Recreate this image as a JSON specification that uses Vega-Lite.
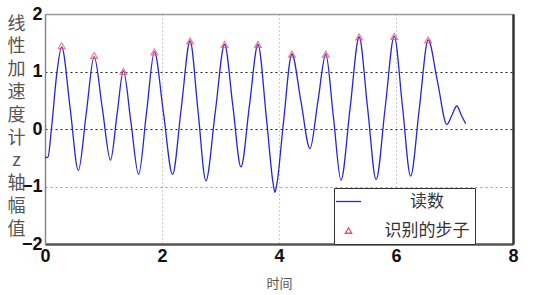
{
  "$schema": "https://vega.github.io/schema/vega-lite/v6.json",
  "autosize": "none",
  "width": 468,
  "height": 230,
  "padding": {"left": 45, "top": 14, "right": 22, "bottom": 51},
  "background": "white",
  "config": {"view": {"stroke": "#888", "strokeWidth": 1}},
  "datasets": {
    "readings": [
      {"t": 0, "v": -0.5, "series": "读数"},
      {"t": 0.05, "v": -0.49, "series": "读数"},
      {"t": 0.11, "v": 0.0, "series": "读数"},
      {"t": 0.2, "v": 0.95, "series": "读数"},
      {"t": 0.285, "v": 1.43, "series": "读数"},
      {"t": 0.43, "v": 0.36, "series": "读数"},
      {"t": 0.57, "v": -0.72, "series": "读数"},
      {"t": 0.705, "v": 0.27, "series": "读数"},
      {"t": 0.84, "v": 1.26, "series": "读数"},
      {"t": 0.98, "v": 0.36, "series": "读数"},
      {"t": 1.12, "v": -0.54, "series": "读数"},
      {"t": 1.23, "v": 0.24, "series": "读数"},
      {"t": 1.34, "v": 1.01, "series": "读数"},
      {"t": 1.47, "v": 0.11, "series": "读数"},
      {"t": 1.6, "v": -0.79, "series": "读数"},
      {"t": 1.735, "v": 0.28, "series": "读数"},
      {"t": 1.87, "v": 1.34, "series": "读数"},
      {"t": 2.025, "v": 0.28, "series": "读数"},
      {"t": 2.18, "v": -0.79, "series": "读数"},
      {"t": 2.33, "v": 0.37, "series": "读数"},
      {"t": 2.48, "v": 1.53, "series": "读数"},
      {"t": 2.615, "v": 0.32, "series": "读数"},
      {"t": 2.75, "v": -0.9, "series": "读数"},
      {"t": 2.91, "v": 0.29, "series": "读数"},
      {"t": 3.07, "v": 1.47, "series": "读数"},
      {"t": 3.21, "v": 0.41, "series": "读数"},
      {"t": 3.35, "v": -0.66, "series": "读数"},
      {"t": 3.495, "v": 0.41, "series": "读数"},
      {"t": 3.64, "v": 1.47, "series": "读数"},
      {"t": 3.785, "v": 0.19, "series": "读数"},
      {"t": 3.9, "v": -0.95, "series": "读数"},
      {"t": 3.93, "v": -1.1, "series": "读数"},
      {"t": 3.96, "v": -0.98, "series": "读数"},
      {"t": 4.075, "v": 0.1, "series": "读数"},
      {"t": 4.22, "v": 1.3, "series": "读数"},
      {"t": 4.375, "v": 0.48, "series": "读数"},
      {"t": 4.53, "v": -0.34, "series": "读数"},
      {"t": 4.665, "v": 0.48, "series": "读数"},
      {"t": 4.8, "v": 1.3, "series": "读数"},
      {"t": 4.93, "v": 0.21, "series": "读数"},
      {"t": 5.06, "v": -0.89, "series": "读数"},
      {"t": 5.215, "v": 0.36, "series": "读数"},
      {"t": 5.37, "v": 1.6, "series": "读数"},
      {"t": 5.515, "v": 0.36, "series": "读数"},
      {"t": 5.66, "v": -0.88, "series": "读数"},
      {"t": 5.815, "v": 0.37, "series": "读数"},
      {"t": 5.97, "v": 1.61, "series": "读数"},
      {"t": 6.11, "v": 0.4, "series": "读数"},
      {"t": 6.25, "v": -0.82, "series": "读数"},
      {"t": 6.4, "v": 0.37, "series": "读数"},
      {"t": 6.55, "v": 1.55, "series": "读数"},
      {"t": 6.71, "v": 0.82, "series": "读数"},
      {"t": 6.87, "v": 0.08, "series": "读数"},
      {"t": 6.955, "v": 0.24, "series": "读数"},
      {"t": 7.04, "v": 0.4, "series": "读数"},
      {"t": 7.115, "v": 0.245, "series": "读数"},
      {"t": 7.19, "v": 0.09, "series": "读数"}
    ],
    "steps": [
      {"t": 0.285, "v": 1.45, "series": "识别的步子"},
      {"t": 0.84, "v": 1.28, "series": "识别的步子"},
      {"t": 1.34, "v": 1.0, "series": "识别的步子"},
      {"t": 1.87, "v": 1.34, "series": "识别的步子"},
      {"t": 2.48, "v": 1.53, "series": "识别的步子"},
      {"t": 3.07, "v": 1.47, "series": "识别的步子"},
      {"t": 3.64, "v": 1.47, "series": "识别的步子"},
      {"t": 4.22, "v": 1.3, "series": "识别的步子"},
      {"t": 4.8, "v": 1.3, "series": "识别的步子"},
      {"t": 5.37, "v": 1.6, "series": "识别的步子"},
      {"t": 5.97, "v": 1.61, "series": "识别的步子"},
      {"t": 6.55, "v": 1.55, "series": "识别的步子"}
    ]
  },
  "layer": [
    {
      "data": {"name": "readings"},
      "mark": {"type": "line", "interpolate": "monotone", "strokeWidth": 1.3},
      "encoding": {
        "x": {
          "field": "t", "type": "quantitative",
          "scale": {"domain": [0, 8], "nice": false, "zero": false},
          "axis": {
            "values": [0, 2, 4, 6, 8],
            "title": "时间",
            "titleFont": "Noto Sans CJK SC", "titleFontSize": 13, "titleFontWeight": "normal", "titleColor": "#555",
            "titleBaseline": "middle", "titleY": 39,
            "labelFont": "Liberation Sans", "labelFontSize": 18, "labelFontWeight": "bold", "labelColor": "#111",
            "labelPadding": 3, "labelFlush": false, "labelOverlap": false,
            "tickSize": 0,
            "domainColor": "#555", "domainWidth": 2.5,
            "grid": true, "gridDash": [1, 3], "gridWidth": 1,
            "gridColor": {"condition": {"test": "datum.value === 0 || datum.value === 8", "value": "transparent"}, "value": "#999"}
          }
        },
        "y": {
          "field": "v", "type": "quantitative",
          "scale": {"domain": [-2, 2], "nice": false, "zero": false},
          "axis": {
            "values": [-2, -1, 0, 1, 2],
            "title": ["线", "性", "加", "速", "度", "计", "z", "轴", "幅", "值"],
            "titleFont": "Noto Sans CJK SC", "titleFontSize": 18, "titleFontWeight": "normal", "titleColor": "#555",
            "titleAngle": 0, "titleAlign": "center", "titleBaseline": "top",
            "titleLineHeight": 22.8, "titleX": -29, "titleY": 1,
            "labelFont": "Liberation Sans", "labelFontSize": 18, "labelFontWeight": "bold", "labelColor": "#111",
            "labelPadding": 3, "labelFlush": false, "labelOverlap": false,
            "tickSize": 0,
            "domainColor": "#888", "domainWidth": 1.5,
            "grid": true, "gridDash": [2, 3], "gridWidth": 1.2,
            "gridColor": {"condition": [
              {"test": "datum.value === 2 || datum.value === -2", "value": "transparent"},
              {"test": "datum.value === -1", "value": "#999"}
            ], "value": "#222"}
          }
        },
        "color": {
          "field": "series", "type": "nominal",
          "scale": {"domain": ["读数", "识别的步子"], "range": ["#2626d2", "#f04a6a"]},
          "legend": {
            "orient": "none", "legendX": 289, "legendY": 174,
            "title": null,
            "fillColor": "white", "strokeColor": "#333",
            "padding": 5, "rowPadding": 11,
            "symbolSize": 625, "symbolType": "stroke", "symbolStrokeWidth": 1.3, "symbolOffset": 1,
            "labelOffset": 70, "labelAlign": "center", "labelLimit": 400,
            "labelFont": "Noto Sans CJK SC", "labelFontSize": 17, "labelColor": "#333",
            "encode": {
              "symbols": {
                "update": {
                  "shape": {"signal": "datum.value === '读数' ? 'stroke' : 'triangle-up'"},
                  "size": {"signal": "datum.value === '读数' ? 625 : 40"},
                  "fill": {"value": "transparent"},
                  "strokeWidth": {"value": 1.3}
                }
              }
            }
          }
        }
      }
    },
    {
      "data": {"name": "steps"},
      "mark": {"type": "point", "shape": "triangle-up", "filled": false, "size": 45, "strokeWidth": 1.3},
      "encoding": {
        "x": {
          "field": "t", "type": "quantitative",
          "scale": {"domain": [0, 8], "nice": false, "zero": false},
          "axis": {"orient": "top", "values": [], "labels": false, "ticks": false, "grid": false, "title": null, "domainColor": "#999", "domainWidth": 1.5}
        },
        "y": {
          "field": "v", "type": "quantitative",
          "scale": {"domain": [-2, 2], "nice": false, "zero": false},
          "axis": {"orient": "right", "values": [], "labels": false, "ticks": false, "grid": false, "title": null, "domainColor": "#333", "domainWidth": 2.5}
        },
        "color": {"field": "series", "type": "nominal"}
      }
    }
  ],
  "resolve": {"axis": {"x": "independent", "y": "independent"}}
}
